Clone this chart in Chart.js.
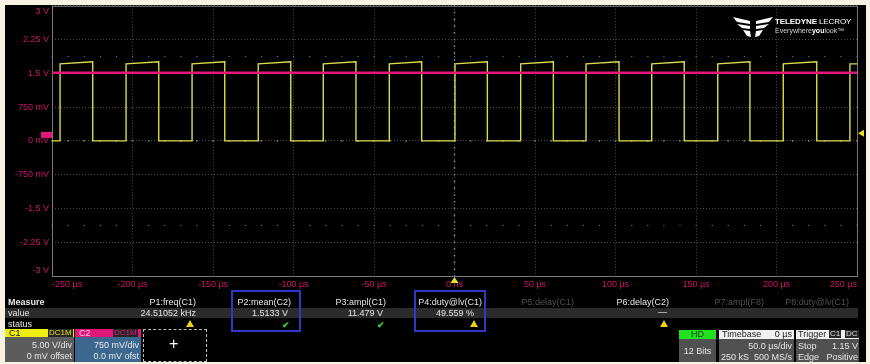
<!DOCTYPE html>
<html lang="en">
<head>
<meta charset="UTF-8">
<title>Scope capture</title>
<script src="https://cdn.jsdelivr.net/npm/chart.js"></script>
<style>
  body { margin: 0; width: 870px; height: 364px; background: #f7f2e2; overflow: hidden; position: relative;
         font-family: "Liberation Sans", Arial, sans-serif; }
  #screen { position: absolute; left: 5px; top: 5px; width: 861px; height: 357px; background: #000; }
  #plot { position: absolute; left: 0; top: -8px; width: 870px; height: 303px; }
  .t { position: absolute; font-size: 9px; line-height: 10px; white-space: nowrap; color: #e6e6e6; }
  .dim { color: #4f4f4f; }
  .band { position: absolute; left: 5px; width: 853px; top: 308px; height: 10px; background: #2b2b2b; }
  .sel { position: absolute; border: 2px solid #3038c8; box-sizing: border-box; }
  .warn { position: absolute; width: 0; height: 0; border-left: 4px solid transparent; border-right: 4px solid transparent;
          border-bottom: 7px solid #e8d21c; }
  .ok { position: absolute; color: #38d038; font-size: 9px; font-weight: bold; line-height: 10px; }
  .box { position: absolute; box-sizing: border-box; }
  .tag { position: absolute; font-size: 8px; line-height: 8px; padding: 0 1px; background: #262626; }
  .logo { position: absolute; left: 733px; top: 14px; }
</style>
</head>
<body>
<div id="screen"></div>
<div id="plot"><canvas id="scope"></canvas></div>

<!-- logo -->
<svg class="logo" width="40" height="24" viewBox="0 0 40 24">
  <polygon points="0,3 17,7 17,10 4,8" fill="#fff"/>
  <polygon points="4,10 17,12 17,15 9,14" fill="#fff"/>
  <polygon points="10,16 17,17 18,23 14,22" fill="#fff"/>
  <polygon points="40,3 23,7 23,10 36,8" fill="#fff"/>
  <polygon points="36,10 23,12 23,15 31,14" fill="#fff"/>
  <polygon points="30,16 23,17 22,23 26,22" fill="#fff"/>
</svg>
<div class="t" style="left:775px;top:17px;font-size:8px;color:#fff;letter-spacing:-0.1px"><b>TELEDYNE</b> LECROY</div>
<div class="t" style="left:775px;top:27px;font-size:7px;line-height:8px;color:#cfcfcf">Everywhere<b style="color:#fff">you</b>look&#8482;</div>

<!-- measurement table -->
<div class="band"></div>
<div class="t" style="left:8px;top:297px;font-weight:bold">Measure</div>
<div class="t" style="left:8px;top:308px">value</div>
<div class="t" style="left:8px;top:319px">status</div>

<div class="t" style="right:674px;top:297px">P1:freq(C1)</div>
<div class="t" style="right:674px;top:308px">24.51052 kHz</div>
<div class="warn" style="left:186px;top:320px"></div>

<div class="sel" style="left:231px;top:290px;width:70px;height:42px"></div>
<div class="t" style="right:579px;top:297px">P2:mean(C2)</div>
<div class="t" style="right:582px;top:308px">1.5133 V</div>
<div class="ok" style="left:282px;top:320px">&#10004;</div>

<div class="t" style="right:484px;top:297px">P3:ampl(C1)</div>
<div class="t" style="right:487px;top:308px">11.479 V</div>
<div class="ok" style="left:377px;top:320px">&#10004;</div>

<div class="sel" style="left:414px;top:290px;width:72px;height:42px"></div>
<div class="t" style="right:388px;top:297px">P4:duty@lv(C1)</div>
<div class="t" style="right:396px;top:308px">49.559 %</div>
<div class="warn" style="left:470px;top:320px"></div>

<div class="t dim" style="right:296px;top:297px">P5:delay(C1)</div>
<div class="t" style="right:201px;top:297px">P6:delay(C2)</div>
<div class="t" style="right:203px;top:307px">&#8212;</div>
<div class="warn" style="left:660px;top:320px"></div>
<div class="t dim" style="right:106px;top:297px">P7:ampl(F8)</div>
<div class="t dim" style="right:21px;top:297px">P8:duty@lv(C1)</div>

<!-- channel descriptors -->
<div class="box" style="left:5px;top:329px;width:69px;height:8px;background:#eeee10"></div>
<div class="t" style="left:9px;top:328px;color:#111">C1</div>
<div class="tag" style="left:48px;top:329px;color:#e0e020">DC1M</div>
<div class="box" style="left:5px;top:337px;width:69px;height:25px;background:#5c5c5c"></div>
<div class="t" style="right:798px;top:340px">5.00 V/div</div>
<div class="t" style="right:798px;top:351px">0 mV offset</div>

<div class="box" style="left:75px;top:329px;width:66px;height:8px;background:#e2167a"></div>
<div class="t" style="left:79px;top:328px;color:#ffd0e6">C2</div>
<div class="tag" style="left:113px;top:329px;color:#e2167a">DC1M</div>
<div class="box" style="left:75px;top:337px;width:66px;height:25px;background:#3c6890"></div>
<div class="t" style="right:731px;top:340px">750 mV/div</div>
<div class="t" style="right:731px;top:351px">0.0 mV ofst</div>

<div class="box" style="left:143px;top:329px;width:64px;height:33px;border:1px dashed #bbb"></div>
<div class="t" style="left:169px;top:336px;font-size:16px;line-height:16px;color:#fff">+</div>

<!-- acquisition descriptors -->
<div class="box" style="left:679px;top:330px;width:37px;height:9px;background:#22e022"></div>
<div class="t" style="left:679px;top:329px;width:37px;text-align:center;color:#0a3a0a">HD</div>
<div class="box" style="left:679px;top:339px;width:37px;height:23px;background:#505050"></div>
<div class="t" style="left:679px;top:346px;width:37px;text-align:center">12 Bits</div>

<div class="box" style="left:719px;top:330px;width:75px;height:9px;background:#f0f0f0"></div>
<div class="t" style="left:722px;top:329px;color:#222">Timebase</div>
<div class="t" style="right:78px;top:329px;color:#222">0 µs</div>
<div class="box" style="left:719px;top:339px;width:75px;height:23px;background:#505050"></div>
<div class="t" style="right:78px;top:341px">50.0 µs/div</div>
<div class="t" style="right:78px;top:352px">250 kS&nbsp;&nbsp;500 MS/s</div>

<div class="box" style="left:796px;top:330px;width:63px;height:9px;background:#f0f0f0"></div>
<div class="t" style="left:798px;top:329px;color:#222">Trigger</div>
<div class="tag" style="left:829px;top:330px;color:#ddd">C1</div>
<div class="tag" style="left:845px;top:330px;color:#ddd">DC</div>
<div class="box" style="left:796px;top:339px;width:63px;height:23px;background:#505050"></div>
<div class="t" style="left:798px;top:341px">Stop</div>
<div class="t" style="right:12px;top:341px">1.15 V</div>
<div class="t" style="left:798px;top:352px">Edge</div>
<div class="t" style="right:12px;top:352px">Positive</div>

<script>
// axis ticks (50 µs/div, 750 mV/div on the C2 scale)
const timeTickLabels = ['-250 µs', '-200 µs', '-150 µs', '-100 µs', '-50 µs', '0 ns',
                        '50 µs', '100 µs', '150 µs', '200 µs', '250 µs'];
const voltTickLabels = ['-3 V', '-2.25 V', '-1.5 V', '-750 mV', '0 mV', '750 mV', '1.5 V', '2.25 V', '3 V'];

// C1 square wave, edge times (µs)
const c1RiseTimes = [-245.0, -204.0, -163.0, -121.9, -81.5, -40.5, 0.3, 41.1, 81.7, 122.5, 163.5, 204.2, 245.6];
const c1FallTimes = [-224.7, -183.7, -142.7, -101.7, -61.2, -20.4, 20.4, 61.4, 102.2, 142.7, 183.5, 225.0];
const c1HighStart = 1.71;   // level just after a rising edge (display volts)
const c1HighEnd = 1.755;    // level just before a falling edge
const c1Low = 0.0;

// C2 is a flat DC line
const c2Times = [-250, 250];
const c2Volts = [1.513, 1.513];

// trigger: 1.15 V on C1 (5 V/div) sits at this height on the 750 mV/div grid
const triggerLevel = 0.1725;
const triggerTime = 0;

const c1Points = [{ x: -250, y: c1Low }];
c1RiseTimes.forEach((r, i) => {
  c1Points.push({ x: r, y: c1Low }, { x: r, y: c1HighStart });
  const f = c1FallTimes[i];
  if (f !== undefined) {
    c1Points.push({ x: f, y: c1HighEnd }, { x: f, y: c1Low });
  } else {
    c1Points.push({ x: 250, y: c1HighStart });
  }
});
const c2Points = c2Times.map((t, i) => ({ x: t, y: c2Volts[i] }));

const MAGENTA = '#e4177c';
const YELLOW = '#dcdc48';

const scopeDecor = {
  id: 'scopeDecor',
  beforeDatasetsDraw(chart) {
    const { ctx, chartArea: a, scales: { x, y } } = chart;
    ctx.save();
    // minor marks along the centre lines and the 2.5 div rows
    for (let t = -250; t <= 250; t += 10) {
      const px = x.getPixelForValue(t);
      ctx.fillStyle = '#8a8a8a';
      ctx.fillRect(px - 0.75, y.getPixelForValue(0) - 0.75, 1.5, 1.5);
      ctx.fillStyle = '#6a6a6a';
      ctx.fillRect(px - 0.5, y.getPixelForValue(1.875) - 0.5, 1.2, 1.2);
      ctx.fillRect(px - 0.5, y.getPixelForValue(-1.875) - 0.5, 1.2, 1.2);
    }
    ctx.fillStyle = '#8a8a8a';
    for (let v = -3; v <= 3.001; v += 0.15) {
      const py = y.getPixelForValue(v);
      ctx.fillRect(x.getPixelForValue(0) - 0.75, py - 0.75, 1.5, 1.5);
    }
    // frame
    ctx.strokeStyle = '#7a7a7a';
    ctx.lineWidth = 1;
    ctx.strokeRect(a.left + 0.5, a.top + 0.5, a.right - a.left, a.bottom - a.top);
    ctx.restore();
  },
  afterDraw(chart) {
    const { ctx, chartArea: a, scales: { x, y } } = chart;
    ctx.save();
    // C2 offset marker
    const y0 = y.getPixelForValue(0);
    ctx.fillStyle = MAGENTA;
    ctx.fillRect(a.left - 11, y0 - 9, 11, 6);
    // trigger level marker (right edge)
    const yt = y.getPixelForValue(triggerLevel);
    ctx.fillStyle = '#e8e020';
    ctx.beginPath();
    ctx.moveTo(a.right + 1, yt);
    ctx.lineTo(a.right + 7, yt - 3.5);
    ctx.lineTo(a.right + 7, yt + 3.5);
    ctx.closePath();
    ctx.fill();
    // trigger position marker (bottom)
    const xt = x.getPixelForValue(triggerTime);
    ctx.beginPath();
    ctx.moveTo(xt, a.bottom + 1);
    ctx.lineTo(xt - 4, a.bottom + 7);
    ctx.lineTo(xt + 4, a.bottom + 7);
    ctx.closePath();
    ctx.fill();
    ctx.restore();
  }
};

new Chart(document.getElementById('scope'), {
  type: 'line',
  data: {
    datasets: [
      { label: 'C2', data: c2Points, borderColor: MAGENTA, borderWidth: 2.5, pointRadius: 0 },
      { label: 'C1', data: c1Points, borderColor: YELLOW, borderWidth: 1.4, pointRadius: 0 }
    ]
  },
  options: {
    responsive: true,
    maintainAspectRatio: false,
    animation: false,
    layout: { padding: { top: 11, right: 13, bottom: 0, left: 0 } },
    plugins: { legend: { display: false }, tooltip: { enabled: false } },
    scales: {
      x: {
        type: 'linear', min: -250, max: 250,
        grid: { color: '#4a4a4a', drawTicks: false },
        border: { display: false, dash: [1, 2] },
        ticks: {
          stepSize: 50, autoSkip: false, maxRotation: 0, padding: 3, align: 'inner',
          color: '#cc1468', font: { family: 'Liberation Sans', size: 9 },
          callback: (v, i) => timeTickLabels[i]
        },
        afterFit: s => { s.height = 19; }
      },
      y: {
        min: -3, max: 3,
        grid: { color: '#4a4a4a', drawTicks: false },
        border: { display: false, dash: [1, 2] },
        ticks: {
          stepSize: 0.75, autoSkip: false, padding: 3,
          color: '#cc1468', font: { family: 'Liberation Sans', size: 9 },
          // the end labels are nudged inside the screen, as the scope does
          callback: (v, i, all) => i === 0 ? [voltTickLabels[i], ''] :
                                   i === all.length - 1 ? ['', voltTickLabels[i]] : voltTickLabels[i]
        },
        afterFit: s => { s.width = 52; }
      }
    }
  },
  plugins: [scopeDecor]
});
</script>
</body>
</html>
